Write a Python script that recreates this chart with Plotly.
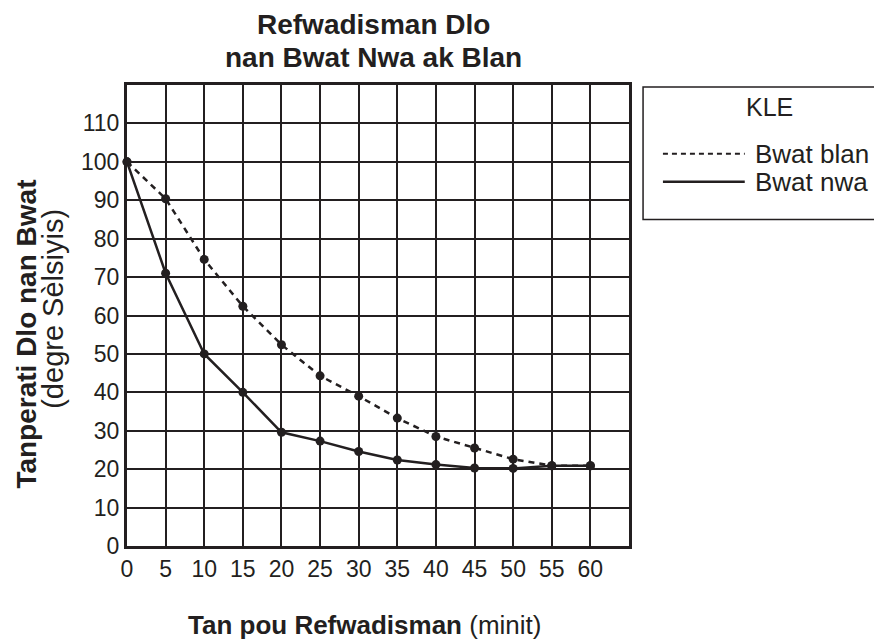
import plotly.graph_objects as go

minutes = [0, 5, 10, 15, 20, 25, 30, 35, 40, 45, 50, 55, 60]
white_box = [100, 90.4, 74.6, 62.4, 52.4, 44.3, 39.0, 33.3, 28.5, 25.5, 22.6, 20.9, 20.9]
black_box = [100, 71.0, 50.0, 40.0, 29.6, 27.3, 24.6, 22.4, 21.2, 20.3, 20.2, 20.9, 20.9]
x_ticks = [0, 5, 10, 15, 20, 25, 30, 35, 40, 45, 50, 55, 60]
y_ticks = [0, 10, 20, 30, 40, 50, 60, 70, 80, 90, 100, 110]

FONT = "Liberation Sans, Arial, Helvetica, sans-serif"
INK = "#231f20"

fig = go.Figure()
fig.add_trace(go.Scatter(
    x=minutes, y=white_box, mode="lines+markers", name="Bwat blan",
    line=dict(color=INK, width=2.5, dash="6px,5px"),
    marker=dict(color=INK, size=9), cliponaxis=False))
fig.add_trace(go.Scatter(
    x=minutes, y=black_box, mode="lines+markers", name="Bwat nwa",
    line=dict(color=INK, width=2.5),
    marker=dict(color=INK, size=9), cliponaxis=False))

axis_common = dict(showgrid=True, gridcolor=INK, gridwidth=2,
                   showline=True, linecolor=INK, linewidth=3, mirror=True,
                   zeroline=False, ticks="", fixedrange=True,
                   tickfont=dict(family=FONT, size=23, color=INK))

fig.update_xaxes(range=[0, 65], tickvals=x_ticks, ticktext=[str(v) for v in x_ticks],
                 **axis_common)
fig.update_yaxes(range=[0, 120], tickvals=y_ticks, ticktext=[str(v) for v in y_ticks],
                 **axis_common)

def note(text, x, y, size, **kw):
    d = dict(text=text, x=x, y=y, xref="paper", yref="paper", showarrow=False,
             xanchor="center", yanchor="middle",
             font=dict(family=FONT, size=size, color=INK))
    d.update(kw)
    return d

annotations = [
    note("<b>Refwadisman Dlo</b>", 0.491, 1.132, 28),
    note("<b>nan Bwat Nwa ak Blan</b>", 0.491, 1.0606, 28),
    note("<b>Tan pou Refwadisman</b> (minit)", 0.473, -0.172, 26),
    note("<b>Tanperati Dlo nan Bwat</b>", -0.2008, 0.459, 28, textangle=-90),
    note("(degre Sèlsiyis)", -0.149, 0.515, 29, textangle=-90),
    note("KLE", 1.280, 0.952, 25),
    note("Bwat blan", 1.2465, 0.8506, 26, xanchor="left"),
    note("Bwat nwa", 1.2465, 0.790, 26, xanchor="left"),
]

shapes = [
    dict(type="rect", xref="paper", yref="paper", x0=1.028, x1=1.55, y0=0.708, y1=0.9957,
         line=dict(color=INK, width=1.5)),
    dict(type="line", xref="paper", yref="paper", x0=1.0676, x1=1.2306, y0=0.8506, y1=0.8506,
         line=dict(color=INK, width=2, dash="5px,4px")),
    dict(type="line", xref="paper", yref="paper", x0=1.0676, x1=1.2306, y0=0.790, y1=0.790,
         line=dict(color=INK, width=2.5)),
]

# the page body has a small margin, so the figure is drawn slightly smaller and offset
fig.update_layout(
    width=874, height=631,
    margin=dict(l=119, r=253, t=77, b=93),
    plot_bgcolor="white", paper_bgcolor="white",
    showlegend=False,
    annotations=annotations, shapes=shapes,
    font=dict(family=FONT, color=INK),
)

fig.write_html("out.html", config={"displayModeBar": False})
